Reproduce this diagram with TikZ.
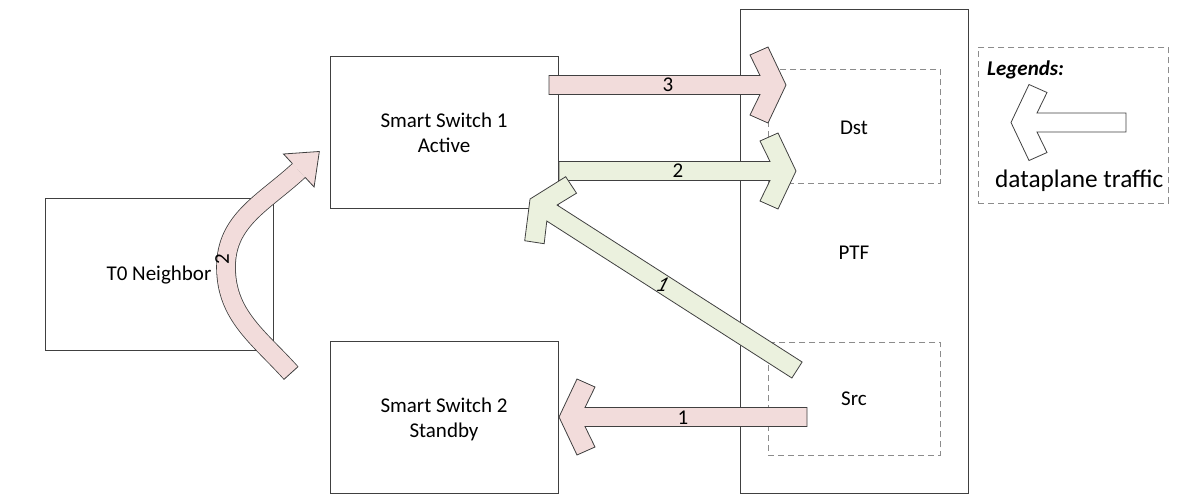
\documentclass[tikz,border=0pt]{standalone}
\usepackage{fontspec}
\setmainfont{Carlito}
\usetikzlibrary{calc}
\definecolor{pinkf}{HTML}{F2DCDB}
\definecolor{greenf}{HTML}{EBF1DE}
\definecolor{edge}{HTML}{404040}
\definecolor{dashc}{HTML}{8C8C8C}
\tikzset{
  box/.style={draw=edge, line width=1pt, anchor=north west, inner sep=0pt},
  dbox/.style={draw=dashc, line width=0.8pt, dash pattern=on 6pt off 4pt, anchor=north west, inner sep=0pt},
  txt/.style={font=\fontsize{21}{25}\selectfont, align=center, inner sep=0pt},
  lbl/.style={font=\fontsize{21}{25}\selectfont, inner sep=0pt},
  arrowline/.style={draw=edge, line width=0.8pt, line join=miter},
}
\makeatletter
\newcommand\blockarr[3]{%
  \pgfpointdiff{\pgfpointanchor{#2}{center}}{\pgfpointanchor{#3}{center}}%
  \edef\bardx{\strip@pt\pgf@x}\edef\bardy{\strip@pt\pgf@y}%
  \pgfmathsetmacro\barang{atan2(\bardy,\bardx)}%
  \pgfmathsetmacro\barlen{veclen(\bardx,\bardy)}%
  \begin{scope}[shift={(#2)},rotate=\barang]
    \draw[arrowline,fill=#1] (0,9.5) -- (\barlen-26,9.5) -- (\barlen-36,30) -- (\barlen-18,38) -- (\barlen,0) -- (\barlen-18,-38) -- (\barlen-36,-30) -- (\barlen-26,-9.5) -- (0,-9.5) -- cycle;
  \end{scope}}
\makeatother
\begin{document}
\begin{tikzpicture}[x=1pt,y=1pt]
\useasboundingbox (0,0) rectangle (1177,-503);
% boxes
\node[box, minimum width=228pt, minimum height=152pt] (t0) at (45,-198) {};
\node[txt] (t0txt) at (159,-275) {T0 Neighbor};
\node[box, minimum width=228pt, minimum height=152pt] (ss1) at (330,-56) {};
\node[txt] (ss1txt) at (444,-133) {Smart Switch 1\\Active};
\node[box, minimum width=228pt, minimum height=152pt] (ss2) at (330,-341) {};
\node[txt] (ss2txt) at (444,-419) {Smart Switch 2\\Standby};
\node[box, minimum width=228pt, minimum height=484pt] (ptf) at (740,-9) {};
\node[txt] (ptftxt) at (854,-253) {PTF};
\node[dbox, minimum width=172pt, minimum height=114pt] (dst) at (768,-69) {};
\node[txt] (dsttxt) at (854,-128) {Dst};
\node[dbox, minimum width=172pt, minimum height=113pt] (src) at (768,-342) {};
\node[txt] (srctxt) at (854,-399) {Src};
% legend
\node[dbox, minimum width=190pt, minimum height=156pt] (leg) at (978,-47) {};
\node[font=\fontsize{21}{25}\selectfont\bfseries\itshape, anchor=west, inner sep=0pt] (legt) at (987,-70) {Legends:};
\node[font=\fontsize{25.3}{30}\selectfont, anchor=west, inner sep=0pt] (legd) at (995,-181) {dataplane traffic};
\coordinate (ls) at (1126,-122.5);
\coordinate (le) at (1011,-122.5);
\blockarr{white}{ls}{le}
% straight arrows
\coordinate (a3s) at (549,-85);
\coordinate (a3e) at (786,-85);
\blockarr{pinkf}{a3s}{a3e}
\node[lbl] (l3) at (668,-85) {3};
\coordinate (a2s) at (559,-171);
\coordinate (a2e) at (796,-171);
\blockarr{greenf}{a2s}{a2e}
\node[lbl] (l2) at (678,-171) {2};
\coordinate (a1s) at (797,-370);
\coordinate (a1e) at (530,-199);
\blockarr{greenf}{a1s}{a1e}
\node[lbl, xslant=0.5] (l1d) at (663,-285) {1};
\coordinate (b1s) at (807,-417);
\coordinate (b1e) at (559,-417);
\blockarr{pinkf}{b1s}{b1e}
\node[lbl] (l1b) at (683,-418) {1};
% curved arrow
\coordinate (c0) at (291,-373);
\coordinate (cm) at (226,-267);
\coordinate (c1) at (298.8,-170.5);
\draw[draw=edge, line width=0.8pt, double=pinkf, double distance=18pt] (c0) to[out=132,in=-90] (cm) to[out=90,in=222.8] (c1);
\draw[draw=edge, line width=0.8pt] ($(c0)+(7.2,6.5)$) -- ($(c0)-(7.2,6.5)$);
\begin{scope}[shift={(c1)},rotate=42.8]
  \draw[arrowline, fill=pinkf] (0,9.4) -- (0,22.5) -- (28,0) -- (0,-22.5) -- (0,-9.4);
\end{scope}
\node[lbl, rotate=90] (lc) at (222,-259) {2};
\end{tikzpicture}
\end{document}
